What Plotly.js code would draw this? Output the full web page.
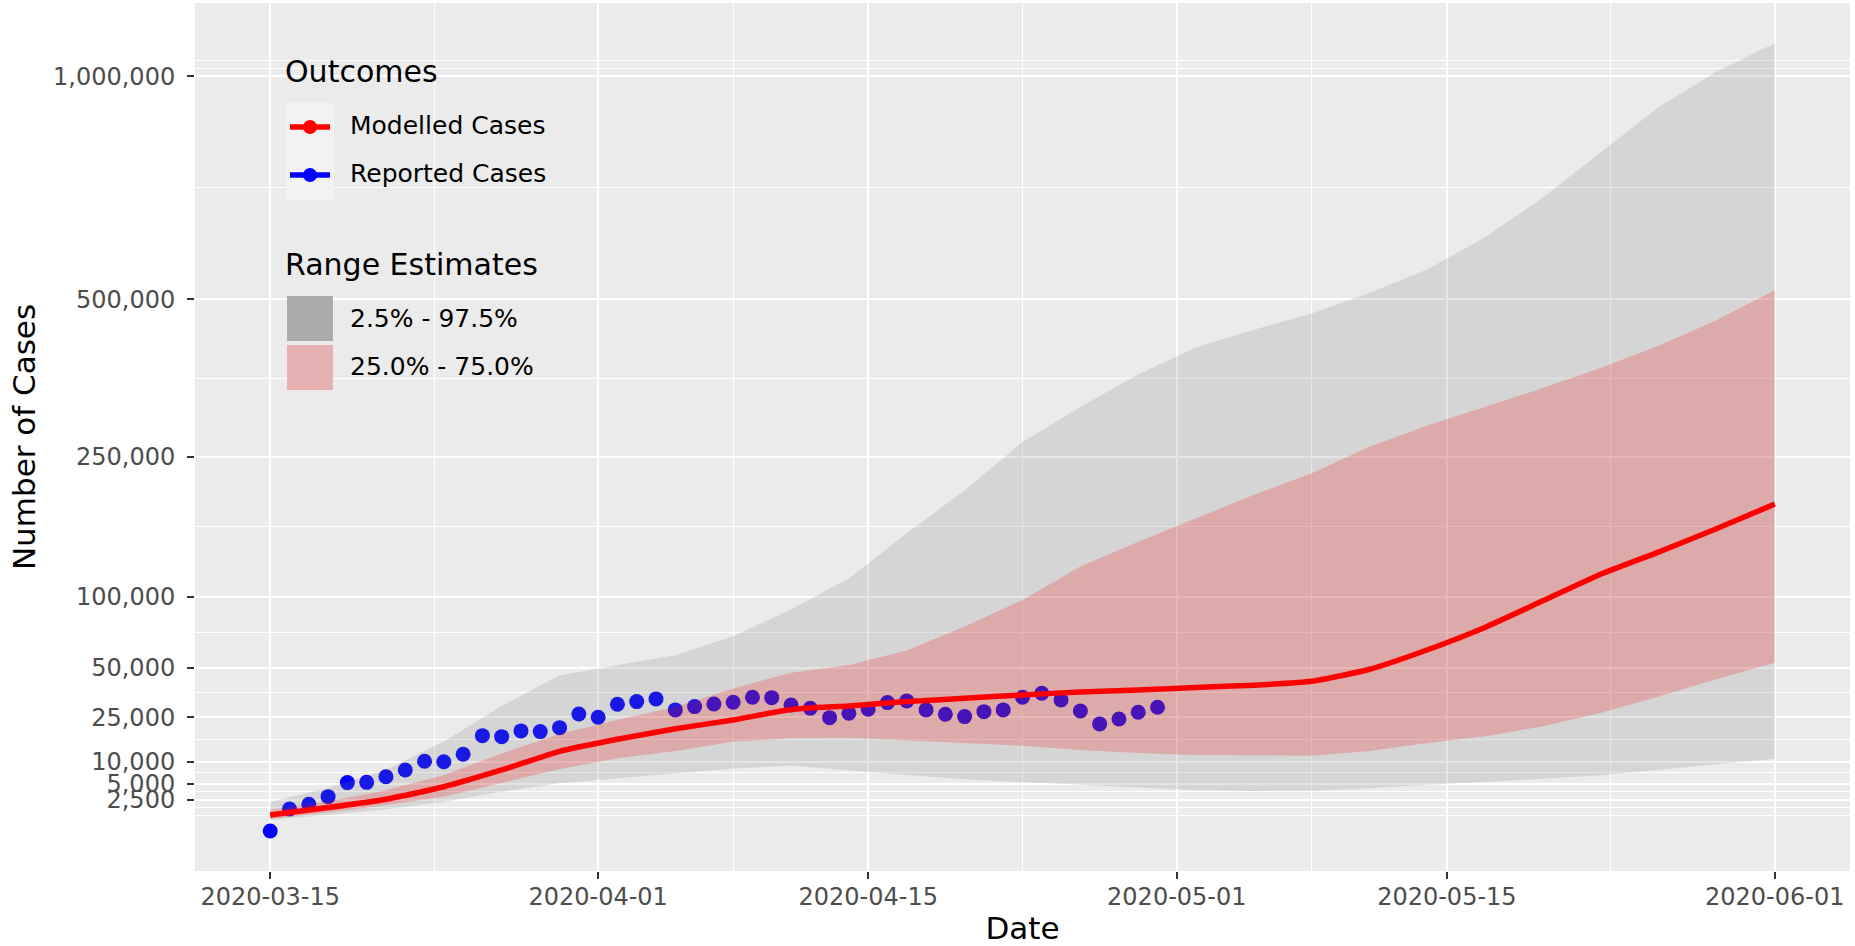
<!DOCTYPE html>
<html>
<head>
<meta charset="utf-8">
<script src="https://cdn.plot.ly/plotly-3.0.1.min.js"></script>
<style>
html, body { margin: 0; padding: 0; background: #ffffff; }
#chart { width: 1855px; height: 946px; }
</style>
</head>
<body>
<div id="chart"></div>
<script>
// ---------------- data ----------------
const reportedDates = [
  '2020-03-15','2020-03-16','2020-03-17','2020-03-18','2020-03-19','2020-03-20','2020-03-21','2020-03-22',
  '2020-03-23','2020-03-24','2020-03-25','2020-03-26','2020-03-27','2020-03-28','2020-03-29','2020-03-30',
  '2020-03-31','2020-04-01','2020-04-02','2020-04-03','2020-04-04','2020-04-05','2020-04-06','2020-04-07',
  '2020-04-08','2020-04-09','2020-04-10','2020-04-11','2020-04-12','2020-04-13','2020-04-14','2020-04-15',
  '2020-04-16','2020-04-17','2020-04-18','2020-04-19','2020-04-20','2020-04-21','2020-04-22','2020-04-23',
  '2020-04-24','2020-04-25','2020-04-26','2020-04-27','2020-04-28','2020-04-29','2020-04-30'
];
const reportedCases = [
  80, 1440, 1950, 2930, 5260, 5310, 6450, 7940,
  10100, 10000, 12030, 18010, 17660, 19710, 19460, 20940,
  26470, 25090, 30800, 32000, 33270, 28220, 29690, 30850,
  31720, 34110, 33890, 30450, 28970, 24900, 26770, 28530,
  31540, 32330, 28220, 26340, 25350, 27460, 28220, 34110,
  36060, 32800, 27790, 22380, 24370, 27190, 29410
];

const modelDates = [
  '2020-03-15','2020-03-18','2020-03-21','2020-03-24','2020-03-27','2020-03-30','2020-04-02',
  '2020-04-05','2020-04-08','2020-04-11','2020-04-14','2020-04-17','2020-04-20','2020-04-23',
  '2020-04-26','2020-04-29','2020-05-02','2020-05-05','2020-05-08','2020-05-11','2020-05-14',
  '2020-05-17','2020-05-20','2020-05-23','2020-05-26','2020-05-29','2020-06-01'
];
const modelledCases = [
  900, 1580, 2560, 4500, 7940, 12900, 16740,
  20500, 23960, 28400, 30000, 32000, 33600, 35230,
  36700, 37700, 39000, 40200, 42300, 49000, 61000,
  76500, 97000, 120000, 141000, 165000, 192000
];
const upper975 = [
  2260, 4300, 8000, 16000, 30000, 45500, 51500,
  57500, 70000, 90000, 116000, 160000, 208000, 270000,
  320000, 370000, 415000, 445000, 474000, 512000, 557000,
  622000, 707000, 810000, 921000, 1012000, 1088000
];
const lower025 = [
  550, 920, 1400, 2250, 3670, 5150, 6100,
  7100, 8300, 9000, 7950, 6800, 5900, 5300,
  4800, 4350, 3950, 3800, 3830, 4250, 4850,
  5450, 6000, 6750, 7900, 9300, 10800
];
const upper75 = [
  1330, 2300, 3900, 6800, 12300, 18600, 24000,
  29500, 38500, 47000, 51500, 60500, 77000, 97600,
  127000, 151000, 176000, 203000, 229000, 264000, 293000,
  320000, 349000, 381000, 418000, 462000, 517000
];
const lower25 = [
  610, 1100, 1850, 2900, 5130, 8150, 10900,
  13000, 15900, 17200, 17300, 16300, 15400, 14600,
  13300, 12400, 11850, 11650, 11600, 13000, 15500,
  17800, 21500, 27000, 34400, 43500, 52800
];

const yBreaks = [2500, 5000, 10000, 25000, 50000, 100000, 250000, 500000, 1000000];
const yBreakLabels = ['2,500','5,000','10,000','25,000','50,000','100,000','250,000','500,000','1,000,000'];
const xBreaks = ['2020-03-15','2020-04-01','2020-04-15','2020-05-01','2020-05-15','2020-06-01'];

const outcomeNames = ['Modelled Cases', 'Reported Cases'];
const rangeNames = ['2.5% - 97.5%', '25.0% - 75.0%'];

// ---------------- helpers ----------------
const sq = v => Math.sqrt(v);               // square-root scale (as in the original)
const band = (xs, hi, lo) => ({
  x: xs.concat(xs.slice().reverse()),
  y: hi.map(sq).concat(lo.slice().reverse().map(sq))
});

// minor breaks like ggplot's regular_minor_breaks (in transformed space)
function minorBetween(b) {
  const d = b[1] - b[0];
  const ext = [b[0] - d].concat(b, [b[b.length - 1] + d]);
  const out = [];
  for (let i = 0; i < ext.length - 1; i++) { out.push(ext[i]); out.push((ext[i] + ext[i + 1]) / 2); }
  out.push(ext[ext.length - 1]);
  return out;
}
const yMajor = yBreaks.map(sq);
const yMinor = minorBetween(yMajor);
const xMajorMs = xBreaks.map(d => Date.parse(d + 'T00:00:00Z'));
const toStr = ms => new Date(ms).toISOString().replace('T', ' ').slice(0, 19);
const xMinor = minorBetween(xMajorMs).map(toStr);

const t0 = xMajorMs[0], t1 = xMajorMs[xMajorMs.length - 1];
const padX = (t1 - t0) * 0.05;

// ---------------- traces ----------------
const g95 = band(modelDates, upper975, lower025);
const g50 = band(modelDates, upper75, lower25);

const traces = [
  {
    type: 'scatter', mode: 'markers', x: reportedDates, y: reportedCases.map(sq),
    marker: { color: '#0000ff', size: 15, line: { width: 0 } },
    name: outcomeNames[1], showlegend: false, hoverinfo: 'skip'
  },
  {
    type: 'scatter', mode: 'lines', x: g95.x, y: g95.y, fill: 'toself',
    fillcolor: 'rgba(127,127,127,0.2)', line: { width: 0 },
    name: rangeNames[0], showlegend: false, hoverinfo: 'skip'
  },
  {
    type: 'scatter', mode: 'lines', x: g50.x, y: g50.y, fill: 'toself',
    fillcolor: 'rgba(255,0,0,0.2)', line: { width: 0 },
    name: rangeNames[1], showlegend: false, hoverinfo: 'skip'
  },
  {
    type: 'scatter', mode: 'lines', x: modelDates, y: modelledCases.map(sq),
    line: { color: '#ff0000', width: 5.5, shape: 'spline', smoothing: 0.5 },
    name: outcomeNames[0], showlegend: false, hoverinfo: 'skip'
  }
];

// ---------------- legend (ggplot-style, inside panel) ----------------
const L = 195, R = 1850, T = 3, B = 871;
const px = x => (x - L) / (R - L);
const py = y => (B - y) / (B - T);
const FONT = 'DejaVu Sans, Liberation Sans, sans-serif';

const shapes = [
  { type: 'rect', xref: 'paper', yref: 'paper', x0: px(286), x1: px(334), y0: py(103), y1: py(200),
    fillcolor: '#f2f2f2', line: { width: 0 } },
  { type: 'line', xref: 'paper', yref: 'paper', x0: px(290), x1: px(330), y0: py(127), y1: py(127),
    line: { color: '#ff0000', width: 5.5 } },
  { type: 'circle', xref: 'paper', yref: 'paper', x0: px(303), x1: px(317), y0: py(134), y1: py(120),
    fillcolor: '#ff0000', line: { width: 0 } },
  { type: 'line', xref: 'paper', yref: 'paper', x0: px(290), x1: px(330), y0: py(175), y1: py(175),
    line: { color: '#0000ff', width: 5.5 } },
  { type: 'circle', xref: 'paper', yref: 'paper', x0: px(303), x1: px(317), y0: py(182), y1: py(168),
    fillcolor: '#0000ff', line: { width: 0 } },
  { type: 'rect', xref: 'paper', yref: 'paper', x0: px(287), x1: px(333), y0: py(341), y1: py(296),
    fillcolor: '#ababab', line: { width: 0 } },
  { type: 'rect', xref: 'paper', yref: 'paper', x0: px(287), x1: px(333), y0: py(390), y1: py(345),
    fillcolor: '#e8b1b1', line: { width: 0 } }
];

const ann = (text, x, y, size) => ({
  text: text, xref: 'paper', yref: 'paper', x: px(x), y: py(y),
  xanchor: 'left', yanchor: 'middle', showarrow: false,
  font: { family: FONT, size: size, color: '#000000' }
});
const annotations = [
  ann('Outcomes', 283, 71, 30),
  ann(outcomeNames[0], 348, 126, 25),
  ann(outcomeNames[1], 348, 174, 25),
  ann('Range Estimates', 283, 264, 30),
  ann(rangeNames[0], 348, 318, 25),
  ann(rangeNames[1], 348, 367, 25)
];

// ---------------- layout ----------------
const layout = {
  width: 1855, height: 946,
  margin: { l: L, r: 1855 - R, t: T, b: 946 - B, pad: 0 },
  paper_bgcolor: '#ffffff',
  plot_bgcolor: '#ebebeb',
  font: { family: FONT, color: '#4d4d4d' },
  showlegend: false,
  xaxis: {
    type: 'date',
    range: [toStr(t0 - padX), toStr(t1 + padX)],
    tickmode: 'array', tickvals: xBreaks, ticktext: xBreaks,
    ticks: 'outside', ticklen: 7, tickwidth: 2, tickcolor: '#333333',
    ticklabelstandoff: -3,
    tickfont: { family: FONT, size: 24, color: '#4d4d4d' },
    showgrid: true, gridcolor: '#ffffff', gridwidth: 2,
    minor: { tickmode: 'array', tickvals: xMinor, showgrid: true, gridcolor: '#ffffff', gridwidth: 1, ticks: '' },
    zeroline: false, showline: false,
    title: { text: 'Date', font: { family: FONT, size: 31, color: '#000000' }, standoff: 10 }
  },
  yaxis: {
    range: [-43.5, 1096],
    tickmode: 'array', tickvals: yMajor, ticktext: yBreakLabels,
    ticks: 'outside', ticklen: 7, tickwidth: 2, tickcolor: '#333333',
    ticklabelstandoff: 7,
    tickfont: { family: FONT, size: 24, color: '#4d4d4d' },
    showgrid: true, gridcolor: '#ffffff', gridwidth: 2,
    minor: { tickmode: 'array', tickvals: yMinor, showgrid: true, gridcolor: '#ffffff', gridwidth: 1, ticks: '' },
    zeroline: false, showline: false,
    title: { text: 'Number of Cases', font: { family: FONT, size: 31, color: '#000000' }, standoff: 8 }
  },
  shapes: shapes,
  annotations: annotations
};

Plotly.newPlot('chart', traces, layout, { staticPlot: true, displayModeBar: false });
</script>
</body>
</html>
